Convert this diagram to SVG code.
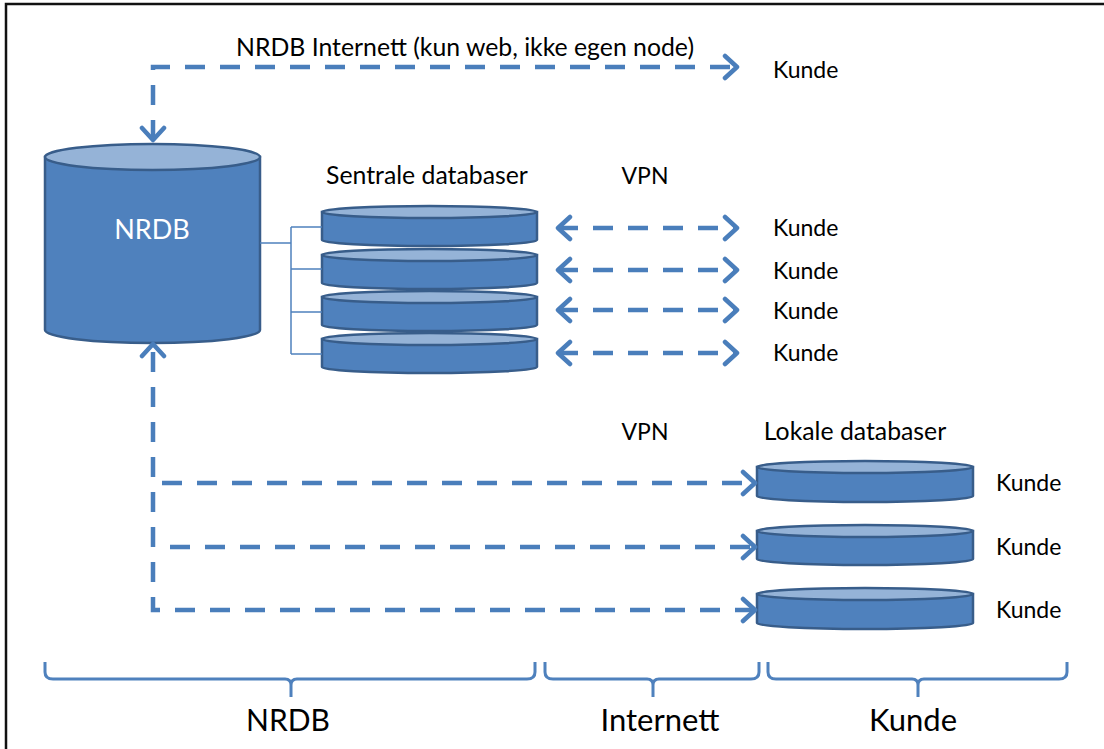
<svg xmlns="http://www.w3.org/2000/svg" width="1104" height="749" viewBox="0 0 1104 749">
<style>
.t{font-family:Lato,"Liberation Sans",sans-serif;fill:#000}
.s{font-size:23px}
.m{font-size:24.8px}
.b{font-size:31px}
.db{fill:#4F81BD;stroke:#385D8A;stroke-width:2.5}
.dbtop{fill:#95B3D7;stroke:#385D8A;stroke-width:2.5}
.dash{fill:none;stroke:#4A7EBB;stroke-width:4.5;stroke-dasharray:20 15}
.thin{fill:none;stroke:#4F81BD;stroke-width:1.5}
.brace{fill:none;stroke:#4F81BD;stroke-width:3}
</style>
<defs>
<marker id="ah" markerUnits="userSpaceOnUse" markerWidth="30" markerHeight="30" viewBox="-15 -15 30 30" refX="0" refY="0" orient="auto-start-reverse">
<path d="M-12,-11 L0,0 L-12,11" fill="none" stroke="#4A7EBB" stroke-width="4.5" stroke-linecap="round" stroke-linejoin="round"/>
</marker>
</defs>
<rect width="1104" height="749" fill="#fff"/>
<path d="M6,749 L6,4 L1104,4" fill="none" stroke="#111" stroke-width="2.5"/>

<g id="nrdb">
<path class="db" d="M45,157 L45,330 A107.5,13 0 0 0 260,330 L260,157 Z"/>
<ellipse class="dbtop" cx="152.5" cy="157" rx="107.5" ry="13"/>
<text x="152" y="239" text-anchor="middle" font-family="Lato,'Liberation Sans',sans-serif" font-size="27" fill="#fff">NRDB</text>
</g>

<g id="sentrale">
<text class="t m" x="427" y="184" text-anchor="middle">Sentrale databaser</text>
<g id="sdb1"><path class="db" d="M322,212 L322,240 A107.5,6 0 0 0 537,240 L537,212 Z"/><ellipse class="dbtop" cx="429.5" cy="212" rx="107.5" ry="6"/></g>
<g id="sdb2"><path class="db" d="M322,255 L322,283 A107.5,6 0 0 0 537,283 L537,255 Z"/><ellipse class="dbtop" cx="429.5" cy="255" rx="107.5" ry="6"/></g>
<g id="sdb3"><path class="db" d="M322,297 L322,325 A107.5,6 0 0 0 537,325 L537,297 Z"/><ellipse class="dbtop" cx="429.5" cy="297" rx="107.5" ry="6"/></g>
<g id="sdb4"><path class="db" d="M322,339 L322,367 A107.5,6 0 0 0 537,367 L537,339 Z"/><ellipse class="dbtop" cx="429.5" cy="339" rx="107.5" ry="6"/></g>
</g>

<g id="lokale">
<text class="t m" x="855" y="440" text-anchor="middle">Lokale databaser</text>
<g id="ldb1"><path class="db" d="M757,467 L757,496 A108,6 0 0 0 973,496 L973,467 Z"/><ellipse class="dbtop" cx="865" cy="467" rx="108" ry="6"/></g>
<g id="ldb2"><path class="db" d="M757,531 L757,559 A108,6 0 0 0 973,559 L973,531 Z"/><ellipse class="dbtop" cx="865" cy="531" rx="108" ry="6"/></g>
<g id="ldb3"><path class="db" d="M757,594 L757,623 A108,6 0 0 0 973,623 L973,594 Z"/><ellipse class="dbtop" cx="865" cy="594" rx="108" ry="6"/></g>
</g>

<g id="labels">
<text class="t m" x="465" y="56" text-anchor="middle">NRDB Internett (kun web, ikke egen node)</text>
<text class="t s" x="773" y="78">Kunde</text>
<text class="t s" x="645" y="184" text-anchor="middle">VPN</text>
<text class="t s" x="773" y="236">Kunde</text>
<text class="t s" x="773" y="279">Kunde</text>
<text class="t s" x="773" y="319">Kunde</text>
<text class="t s" x="773" y="361">Kunde</text>
<text class="t s" x="645" y="440" text-anchor="middle">VPN</text>
<text class="t s" x="996" y="491">Kunde</text>
<text class="t s" x="996" y="555">Kunde</text>
<text class="t s" x="996" y="618">Kunde</text>
</g>

<g id="connectors">
<path class="thin" d="M260,243 L291,243 M291,227 L291,354 M291,227 L322,227 M291,269 L322,269 M291,312 L322,312 M291,354 L322,354"/>
<path class="dash" d="M153,140 L153,67 L737,67" marker-start="url(#ah)" marker-end="url(#ah)"/>
<path class="dash" d="M558,228 L737,228" marker-start="url(#ah)" marker-end="url(#ah)"/>
<path class="dash" d="M558,270 L737,270" marker-start="url(#ah)" marker-end="url(#ah)"/>
<path class="dash" d="M558,310 L737,310" marker-start="url(#ah)" marker-end="url(#ah)"/>
<path class="dash" d="M558,353 L737,353" marker-start="url(#ah)" marker-end="url(#ah)"/>
<path class="dash" d="M162,483 L755,483" marker-end="url(#ah)"/>
<path class="dash" d="M170,547 L755,547" marker-end="url(#ah)"/>
<path class="dash" d="M755,610 L153,610 L153,344" marker-start="url(#ah)" marker-end="url(#ah)"/>
</g>

<g id="braces">
<path class="brace" d="M45,662 L45,672 Q45,679 53,679 L285,679 Q291,679 291,685 L291,697 M291,685 Q291,679 297,679 L527,679 Q535,679 535,672 L535,662"/>
<path class="brace" d="M545,662 L545,672 Q545,679 553,679 L647,679 Q653,679 653,685 L653,697 M653,685 Q653,679 659,679 L751,679 Q759,679 759,672 L759,662"/>
<path class="brace" d="M768,662 L768,672 Q768,679 776,679 L912,679 Q918,679 918,685 L918,697 M918,685 Q918,679 924,679 L1059,679 Q1067,679 1067,672 L1067,662"/>
<text class="t b" x="288" y="731" text-anchor="middle" style="font-size:30px">NRDB</text>
<text class="t b" x="660" y="731" text-anchor="middle">Internett</text>
<text class="t b" x="913" y="731" text-anchor="middle">Kunde</text>
</g>
</svg>
